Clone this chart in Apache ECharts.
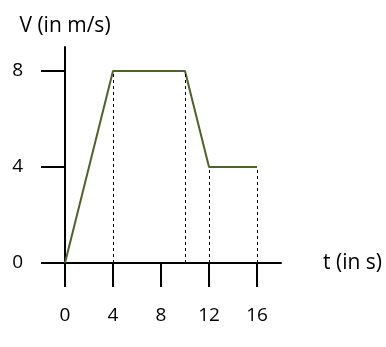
<!DOCTYPE html>
<html>
<head>
<meta charset="utf-8">
<script src="https://cdn.jsdelivr.net/npm/echarts@6/dist/echarts.min.js"></script>
<style>html,body{margin:0;padding:0;background:#fff}#c{width:386px;height:347px}</style>
</head>
<body>
<div id="c"></div>
<script>
const times = [0, 4, 10, 12, 16];
const velocities = [0, 8, 8, 4, 4];
const dropTimes = [4, 10, 12, 16];
const xTicks = [0, 4, 8, 12, 16];
const yTicks = [0, 4, 8];
const xName = 't (in s)';
const yName = 'V (in m/s)';

const font = 'Open Sans';
const chart = echarts.init(document.getElementById('c'));
const points = times.map((t, i) => [t, velocities[i]]);
const dropLines = dropTimes.map(t => {
  const v = velocities[times.indexOf(t)];
  return [{ coord: [t, 0] }, { coord: [t, v] }];
});
chart.setOption({
  animation: false,
  grid: { left: 65, right: 105, top: 47, bottom: 84 },
  xAxis: {
    type: 'value', min: 0, max: 18,
    name: xName, nameLocation: 'end', nameGap: 42,
    nameTextStyle: { fontFamily: font, fontSize: 21, color: '#000', align: 'left', verticalAlign: 'middle' },
    axisLine: { lineStyle: { color: '#000', width: 2 } },
    axisTick: { show: true, length: 24, lineStyle: { color: '#000', width: 2 }, customValues: xTicks },
    axisLabel: { customValues: xTicks, margin: 43, fontFamily: font, fontSize: 19, color: '#000' },
    splitLine: { show: false }
  },
  yAxis: {
    type: 'value', min: 0, max: 9,
    name: yName, nameLocation: 'end', nameGap: 10,
    nameTextStyle: { fontFamily: font, fontSize: 21, color: '#000', align: 'center' },
    axisLine: { show: true, lineStyle: { color: '#000', width: 2 } },
    axisTick: { show: true, length: 24, lineStyle: { color: '#000', width: 2 }, customValues: yTicks },
    axisLabel: { customValues: yTicks, margin: 42, fontFamily: font, fontSize: 19, color: '#000' },
    splitLine: { show: false }
  },
  series: [{
    type: 'line',
    data: points,
    symbol: 'none',
    lineStyle: { color: '#4f6228', width: 2 },
    z: 3,
    markLine: {
      silent: true,
      symbol: ['none', 'none'],
      label: { show: false },
      lineStyle: { color: '#000', width: 1, type: [3, 3] },
      data: dropLines
    }
  }]
});
</script>
</body>
</html>
